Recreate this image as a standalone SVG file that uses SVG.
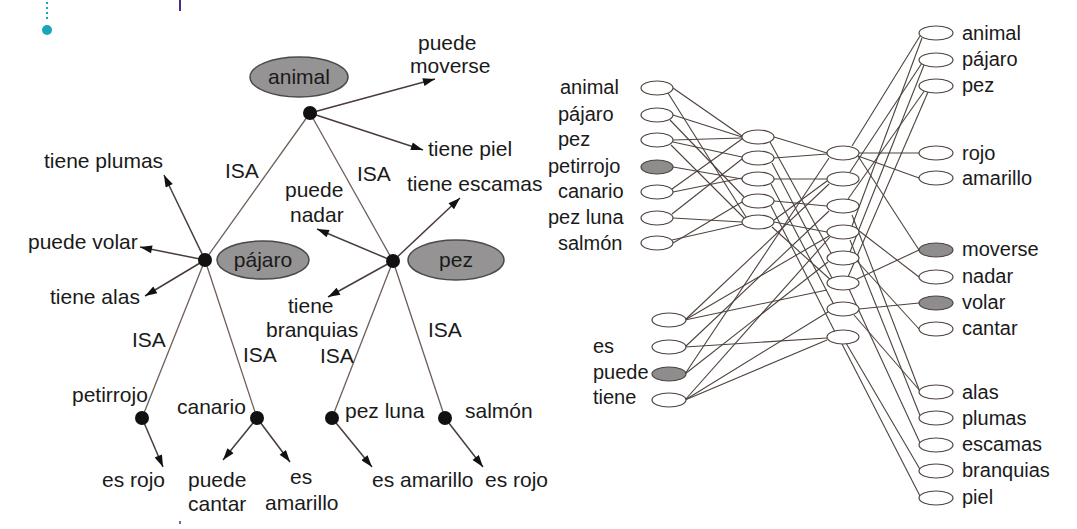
<svg xmlns="http://www.w3.org/2000/svg" width="1077" height="529" viewBox="0 0 1077 529">
<defs>
<style>
.t{font-family:"Liberation Sans",Arial,sans-serif;font-size:21px;fill:#1a1a1a}
.n{font-family:"Liberation Sans",Arial,sans-serif;font-size:20px;fill:#1a1a1a}
.e{fill:#fff;stroke:#4e423e;stroke-width:1.2}
.g{fill:#8e8c8c;stroke:#4e423e;stroke-width:1.2}
.big{fill:#959393;stroke:#4a4a4a;stroke-width:1.5}
.dot{fill:#111}
.l{stroke:#6e5e58;stroke-width:1.3;fill:none}
.a{stroke:#4a3c38;stroke-width:1.5;fill:none;marker-end:url(#arr)}
.w{stroke:#4f423d;stroke-width:1.1;fill:none}
</style>
<marker id="arr" viewBox="0 0 12 8" refX="12" refY="4" markerWidth="14" markerHeight="8" markerUnits="userSpaceOnUse" orient="auto">
<path d="M0,0 L12,4 L0,8 Z" fill="#111"/>
</marker>
</defs>
<rect width="1077" height="529" fill="#fff"/>
<!-- decorations -->
<line x1="47" y1="2" x2="47" y2="22" stroke="#19a6bb" stroke-width="2" stroke-dasharray="2,3"/>
<circle cx="47" cy="30" r="5" fill="#19a6bb"/>
<line x1="180" y1="0" x2="180" y2="11" stroke="#4b2a8e" stroke-width="2"/>
<line x1="180" y1="521" x2="180" y2="524" stroke="#4b2a8e" stroke-width="1.5"/>

<!-- tree connectors -->
<g id="tree-connectors">
<line class="l" x1="310" y1="113" x2="205" y2="260"/>
<line class="l" x1="310" y1="113" x2="393" y2="261"/>
<line class="l" x1="205" y1="260" x2="142" y2="418"/>
<line class="l" x1="205" y1="260" x2="257" y2="418"/>
<line class="l" x1="393" y1="261" x2="332" y2="418"/>
<line class="l" x1="393" y1="261" x2="445" y2="418"/>
<line class="a" x1="310" y1="113" x2="435" y2="79"/>
<line class="a" x1="310" y1="113" x2="423" y2="150"/>
<line class="a" x1="205" y1="260" x2="164" y2="175"/>
<line class="a" x1="205" y1="260" x2="140" y2="247"/>
<line class="a" x1="205" y1="260" x2="145" y2="296"/>
<line class="a" x1="393" y1="261" x2="317" y2="229"/>
<line class="a" x1="393" y1="261" x2="460" y2="198"/>
<line class="a" x1="393" y1="261" x2="328" y2="297"/>
<line class="a" x1="142" y1="418" x2="163" y2="467"/>
<line class="a" x1="257" y1="418" x2="223" y2="460"/>
<line class="a" x1="257" y1="418" x2="290" y2="462"/>
<line class="a" x1="332" y1="418" x2="372" y2="467"/>
<line class="a" x1="445" y1="418" x2="483" y2="467"/>
</g>

<g id="animal"><ellipse class="big" cx="299" cy="77" rx="49" ry="20"/><text class="t" x="299" y="84" text-anchor="middle">animal</text><circle class="dot" cx="310" cy="113" r="7"/></g>
<g id="pajaro"><ellipse class="big" cx="263" cy="260" rx="46" ry="19"/><text class="t" x="263" y="267" text-anchor="middle">pájaro</text><circle class="dot" cx="205" cy="260" r="7"/></g>
<g id="pez"><ellipse class="big" cx="456" cy="260" rx="48" ry="20"/><text class="t" x="456" y="267" text-anchor="middle">pez</text><circle class="dot" cx="393" cy="261" r="7"/></g>
<g id="petirrojo"><circle class="dot" cx="142" cy="418" r="7"/><text class="t" x="72" y="402">petirrojo</text></g>
<g id="canario"><circle class="dot" cx="257" cy="418" r="7"/><text class="t" x="177" y="414">canario</text></g>
<g id="pezluna"><circle class="dot" cx="332" cy="418" r="7"/><text class="t" x="345" y="418">pez luna</text></g>
<g id="salmon"><circle class="dot" cx="445" cy="418" r="7"/><text class="t" x="465" y="418">salmón</text></g>

<g id="tree-labels">
<text class="t" x="418" y="50">puede</text>
<text class="t" x="410" y="73">moverse</text>
<text class="t" x="428" y="156">tiene piel</text>
<text class="t" x="225" y="178">ISA</text>
<text class="t" x="357" y="181">ISA</text>
<text class="t" x="44" y="168">tiene plumas</text>
<text class="t" x="28" y="249">puede volar</text>
<text class="t" x="50" y="304">tiene alas</text>
<text class="t" x="285" y="197">puede</text>
<text class="t" x="290" y="222">nadar</text>
<text class="t" x="407" y="191">tiene escamas</text>
<text class="t" x="288" y="313">tiene</text>
<text class="t" x="266" y="337">branquias</text>
<text class="t" x="132" y="347">ISA</text>
<text class="t" x="243" y="362">ISA</text>
<text class="t" x="320" y="363">ISA</text>
<text class="t" x="428" y="337">ISA</text>
<text class="t" x="102" y="487">es rojo</text>
<text class="t" x="188" y="487">puede</text>
<text class="t" x="188" y="511">cantar</text>
<text class="t" x="290" y="484">es</text>
<text class="t" x="265" y="510">amarillo</text>
<text class="t" x="372" y="487">es amarillo</text>
<text class="t" x="485" y="487">es rojo</text>
</g>

<!-- network connectors -->
<g id="net-connectors" class="w">
<!-- items to representation -->
<line x1="673" y1="88" x2="742" y2="136"/>
<line x1="668" y1="93" x2="746" y2="217"/>
<line x1="673" y1="115" x2="742" y2="137"/>
<line x1="670" y1="120" x2="744" y2="197"/>
<line x1="673" y1="140" x2="742" y2="138"/>
<line x1="673" y1="142" x2="742" y2="157"/>
<line x1="671" y1="145" x2="745" y2="219"/>
<line x1="673" y1="167" x2="742" y2="179"/>
<line x1="672" y1="189" x2="742" y2="139"/>
<line x1="673" y1="192" x2="742" y2="178"/>
<line x1="672" y1="214" x2="742" y2="159"/>
<line x1="673" y1="218" x2="742" y2="222"/>
<line x1="673" y1="243" x2="742" y2="202"/>
<line x1="672" y1="240" x2="743" y2="224"/>
<!-- representation to hidden -->
<line x1="774" y1="137" x2="827" y2="153"/>
<line x1="770" y1="142" x2="832" y2="255"/>
<line x1="774" y1="158" x2="827" y2="154"/>
<line x1="772" y1="163" x2="833" y2="280"/>
<line x1="774" y1="179" x2="827" y2="179"/>
<line x1="771" y1="184" x2="834" y2="305"/>
<line x1="774" y1="201" x2="827" y2="206"/>
<line x1="771" y1="206" x2="835" y2="332"/>
<line x1="774" y1="222" x2="827" y2="232"/>
<line x1="772" y1="227" x2="833" y2="282"/>
<line x1="774" y1="220" x2="827" y2="181"/>
<!-- relations to hidden -->
<line x1="685" y1="320" x2="829" y2="184"/>
<line x1="685" y1="320" x2="829" y2="236"/>
<line x1="685" y1="320" x2="827" y2="290"/>
<line x1="685" y1="347" x2="829" y2="211"/>
<line x1="685" y1="347" x2="827" y2="338"/>
<line x1="685" y1="374" x2="829" y2="158"/>
<line x1="685" y1="374" x2="828" y2="262"/>
<line x1="685" y1="400" x2="828" y2="312"/>
<line x1="685" y1="400" x2="827" y2="340"/>
<line x1="685" y1="400" x2="830" y2="237"/>
<!-- hidden to attributes -->
<line x1="852" y1="146" x2="920" y2="36"/>
<line x1="859" y1="153" x2="919" y2="153"/>
<line x1="858" y1="156" x2="919" y2="178"/>
<line x1="858" y1="156" x2="919" y2="250"/>
<line x1="850" y1="172" x2="922" y2="63"/>
<line x1="848" y1="199" x2="925" y2="90"/>
<line x1="852" y1="226" x2="922" y2="38"/>
<line x1="850" y1="252" x2="924" y2="65"/>
<line x1="848" y1="277" x2="928" y2="92"/>
<line x1="858" y1="230" x2="919" y2="277"/>
<line x1="857" y1="261" x2="919" y2="329"/>
<line x1="857" y1="279" x2="919" y2="250"/>
<line x1="859" y1="309" x2="919" y2="303"/>
<line x1="852" y1="215" x2="920" y2="392"/>
<line x1="850" y1="240" x2="921" y2="418"/>
<line x1="849" y1="289" x2="921" y2="445"/>
<line x1="854" y1="315" x2="921" y2="392"/>
<line x1="846" y1="343" x2="921" y2="471"/>
<line x1="842" y1="344" x2="921" y2="498"/>
</g>

<!-- item inputs -->
<g id="in-animal"><ellipse class="e" cx="657" cy="88" rx="16" ry="7"/><text class="n" x="560" y="94">animal</text></g>
<g id="in-pajaro"><ellipse class="e" cx="657" cy="115" rx="16" ry="7"/><text class="n" x="558" y="121">pájaro</text></g>
<g id="in-pez"><ellipse class="e" cx="657" cy="140" rx="16" ry="7"/><text class="n" x="558" y="146">pez</text></g>
<g id="in-petirrojo"><ellipse class="g" cx="657" cy="167" rx="16" ry="7"/><text class="n" x="548" y="173">petirrojo</text></g>
<g id="in-canario"><ellipse class="e" cx="657" cy="192" rx="16" ry="7"/><text class="n" x="558" y="198">canario</text></g>
<g id="in-pezluna"><ellipse class="e" cx="657" cy="218" rx="16" ry="7"/><text class="n" x="548" y="224">pez luna</text></g>
<g id="in-salmon"><ellipse class="e" cx="657" cy="243" rx="16" ry="7"/><text class="n" x="558" y="250">salmón</text></g>
<!-- relation inputs -->
<g id="rel-isa"><ellipse class="e" cx="669" cy="320" rx="17" ry="7"/></g>
<g id="rel-es"><ellipse class="e" cx="669" cy="347" rx="17" ry="7"/><text class="n" x="593" y="353">es</text></g>
<g id="rel-puede"><ellipse class="g" cx="669" cy="374" rx="17" ry="7"/><text class="n" x="593" y="379">puede</text></g>
<g id="rel-tiene"><ellipse class="e" cx="669" cy="400" rx="17" ry="7"/><text class="n" x="593" y="404">tiene</text></g>
<!-- representation -->
<g id="rep1"><ellipse class="e" cx="758" cy="137" rx="16" ry="7"/></g>
<g id="rep2"><ellipse class="e" cx="758" cy="158" rx="16" ry="7"/></g>
<g id="rep3"><ellipse class="e" cx="758" cy="179" rx="16" ry="7"/></g>
<g id="rep4"><ellipse class="e" cx="758" cy="201" rx="16" ry="7"/></g>
<g id="rep5"><ellipse class="e" cx="758" cy="222" rx="16" ry="7"/></g>
<!-- hidden -->
<g id="hid1"><ellipse class="e" cx="843" cy="153" rx="16" ry="7"/></g>
<g id="hid2"><ellipse class="e" cx="843" cy="179" rx="16" ry="7"/></g>
<g id="hid3"><ellipse class="e" cx="843" cy="206" rx="16" ry="7"/></g>
<g id="hid4"><ellipse class="e" cx="843" cy="232" rx="16" ry="7"/></g>
<g id="hid5"><ellipse class="e" cx="843" cy="258" rx="16" ry="7"/></g>
<g id="hid6"><ellipse class="e" cx="843" cy="283" rx="16" ry="7"/></g>
<g id="hid7"><ellipse class="e" cx="843" cy="309" rx="16" ry="7"/></g>
<g id="hid8"><ellipse class="e" cx="843" cy="337" rx="16" ry="7"/></g>
<!-- attributes -->
<g id="out-animal"><ellipse class="e" cx="936" cy="33" rx="17" ry="7"/><text class="n" x="962" y="40">animal</text></g>
<g id="out-pajaro"><ellipse class="e" cx="936" cy="60" rx="17" ry="7"/><text class="n" x="962" y="66">pájaro</text></g>
<g id="out-pez"><ellipse class="e" cx="936" cy="86" rx="17" ry="7"/><text class="n" x="962" y="92">pez</text></g>
<g id="out-rojo"><ellipse class="e" cx="936" cy="153" rx="17" ry="7"/><text class="n" x="962" y="160">rojo</text></g>
<g id="out-amarillo"><ellipse class="e" cx="936" cy="178" rx="17" ry="7"/><text class="n" x="962" y="185">amarillo</text></g>
<g id="out-moverse"><ellipse class="g" cx="936" cy="250" rx="17" ry="7"/><text class="n" x="962" y="256">moverse</text></g>
<g id="out-nadar"><ellipse class="e" cx="936" cy="277" rx="17" ry="7"/><text class="n" x="962" y="283">nadar</text></g>
<g id="out-volar"><ellipse class="g" cx="936" cy="303" rx="17" ry="7"/><text class="n" x="962" y="309">volar</text></g>
<g id="out-cantar"><ellipse class="e" cx="936" cy="329" rx="17" ry="7"/><text class="n" x="962" y="335">cantar</text></g>
<g id="out-alas"><ellipse class="e" cx="936" cy="392" rx="17" ry="7"/><text class="n" x="962" y="399">alas</text></g>
<g id="out-plumas"><ellipse class="e" cx="936" cy="418" rx="17" ry="7"/><text class="n" x="962" y="425">plumas</text></g>
<g id="out-escamas"><ellipse class="e" cx="936" cy="445" rx="17" ry="7"/><text class="n" x="962" y="451">escamas</text></g>
<g id="out-branquias"><ellipse class="e" cx="936" cy="471" rx="17" ry="7"/><text class="n" x="962" y="477">branquias</text></g>
<g id="out-piel"><ellipse class="e" cx="936" cy="498" rx="17" ry="7"/><text class="n" x="962" y="504">piel</text></g>
</svg>
